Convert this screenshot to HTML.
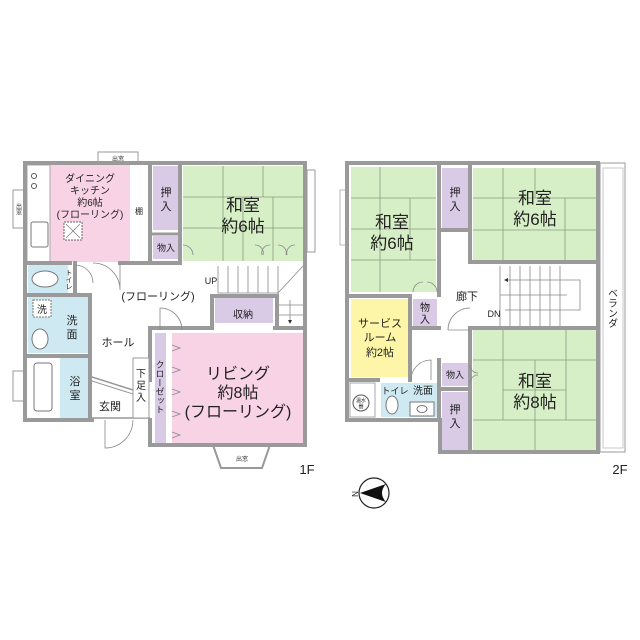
<!DOCTYPE html>
<html><head><meta charset="utf-8"><style>
html,body{margin:0;padding:0;background:#fff;}
svg{display:block;font-family:"Liberation Sans","Noto Sans CJK JP",sans-serif;}
.v{writing-mode:vertical-rl;font-family:"Noto Sans CJK JP",sans-serif;}
</style></head><body>
<svg width="640" height="640" viewBox="0 0 640 640" xmlns="http://www.w3.org/2000/svg">
<rect width="640" height="640" fill="#fff"/>
<!-- ================= 1F ================= -->
<rect x="98" y="152" width="40" height="11" fill="#fff" stroke="#999" stroke-width="1"/>
<text x="118" y="161" font-size="6" text-anchor="middle" fill="#333">出窓</text>
<rect x="13" y="190" width="12" height="38" fill="#fff" stroke="#999" stroke-width="1"/>
<text x="19" y="203" font-size="6" class="v" text-anchor="start" fill="#333">出窓</text>
<rect x="13" y="371" width="12" height="30" fill="#fff" stroke="#999" stroke-width="1"/>
<rect x="307" y="170" width="8" height="82" fill="#fff" stroke="#999" stroke-width="1"/>
<polygon points="213,445 270,445 262,468 221,468" fill="#fff" stroke="#999" stroke-width="2"/>
<text x="242" y="461" font-size="6" text-anchor="middle" fill="#333">出窓</text>
<rect x="50" y="165" width="80" height="97" fill="#f8d3e6"/>
<rect x="27" y="165" width="23" height="97" fill="#fff" stroke="#aaa" stroke-width="1"/>
<circle cx="34" cy="176" r="2.5" fill="none" stroke="#555"/><circle cx="34" cy="186" r="2.5" fill="none" stroke="#555"/>
<rect x="31" y="222" width="17" height="25" rx="2" fill="#fff" stroke="#777"/>
<rect x="64" y="222" width="18" height="18" fill="#fff" stroke="#666" stroke-dasharray="2,1"/>
<path d="M66 224L80 238M80 224L66 238" stroke="#777" stroke-width="0.7"/>
<rect x="153" y="166" width="25" height="64" fill="#d9cae6"/>
<rect x="153" y="236" width="25" height="23" fill="#d9cae6"/>
<rect x="183" y="166" width="120" height="95" fill="#d7efc7"/>
<g stroke="#8a9a80" stroke-width="0.8" fill="none">
<line x1="183" y1="197" x2="303" y2="197"/><line x1="183" y1="228" x2="303" y2="228"/>
<line x1="223" y1="166" x2="223" y2="261"/><line x1="263" y1="166" x2="263" y2="197"/>
<line x1="243" y1="197" x2="243" y2="261"/><line x1="273" y1="197" x2="273" y2="261"/>
</g>
<rect x="28" y="265" width="40" height="28" fill="#cfe9f3"/>
<ellipse cx="45" cy="279" rx="13" ry="8" fill="#fff" stroke="#777"/>
<rect x="28" y="297" width="60" height="56" fill="#cfe9f3"/>
<rect x="33" y="300" width="18" height="17" fill="#fff" stroke="#777" stroke-dasharray="2,1"/>
<ellipse cx="40" cy="339" rx="8" ry="10" fill="#fff" stroke="#777"/>
<rect x="28" y="358" width="25" height="60" fill="#fff"/>
<rect x="34" y="363" width="18" height="48" rx="3" fill="#fff" stroke="#777"/>
<rect x="60" y="358" width="28" height="60" fill="#cfe9f3"/>
<rect x="155" y="333" width="11" height="110" fill="#d9cae6"/>
<rect x="172" y="333" width="131" height="110" fill="#f8d3e6"/>
<rect x="215" y="298" width="58" height="25" fill="#d9cae6"/>
<g stroke="#888" stroke-width="0.8" fill="none">
<line x1="218" y1="266" x2="218" y2="293"/>
<line x1="228" y1="266" x2="228" y2="293"/><line x1="238" y1="266" x2="238" y2="293"/><line x1="248" y1="266" x2="248" y2="293"/><line x1="258" y1="266" x2="258" y2="293"/><line x1="268" y1="266" x2="268" y2="293"/><line x1="278" y1="266" x2="278" y2="293"/>
<line x1="218" y1="293" x2="278" y2="293"/>
<line x1="278" y1="293" x2="303" y2="266"/>
<line x1="278" y1="305" x2="303" y2="305"/><line x1="278" y1="315" x2="303" y2="315"/>
<line x1="278" y1="293" x2="278" y2="325"/>
<line x1="290" y1="300" x2="290" y2="320"/>
</g>
<polygon points="288,320 292,320 290,324" fill="#333"/>
<g stroke="#9a9a9a" stroke-width="4" fill="none" stroke-linecap="square">
<polyline points="25,163 305,163 305,445 150,445 150,420"/>
<polyline points="25,163 25,420 92,420"/>
<line x1="25" y1="263" x2="70" y2="263"/><line x1="120" y1="263" x2="150" y2="263"/>
<line x1="150" y1="163" x2="150" y2="263"/>
<line x1="150" y1="263" x2="180" y2="263"/>
<line x1="180" y1="163" x2="180" y2="263"/>
<line x1="75" y1="263" x2="75" y2="293"/>
<line x1="25" y1="295" x2="90" y2="295"/>
<line x1="90" y1="295" x2="90" y2="420"/>
<line x1="25" y1="356" x2="90" y2="356"/>
<line x1="150" y1="328" x2="150" y2="380"/>
<line x1="150" y1="328" x2="210" y2="328"/><line x1="275" y1="328" x2="305" y2="328"/>
<polyline points="212,328 212,296 277,296 277,328"/>
</g>
<line x1="150" y1="234" x2="180" y2="234" stroke="#9a9a9a" stroke-width="3"/>
<line x1="92" y1="418" x2="150" y2="418" stroke="#999" stroke-width="1.5"/>
<rect x="133" y="358" width="16" height="60" fill="#fff" stroke="#999" stroke-width="1"/>
<line x1="92" y1="377" x2="133" y2="390" stroke="#999" stroke-width="1.5"/>
<line x1="92" y1="381" x2="133" y2="394" stroke="#999" stroke-width="1"/>
<g stroke="#888" stroke-width="0.8" fill="none">
<path d="M120 263 L120 290 A27 27 0 0 0 93 263"/>
<path d="M75 265 A18 18 0 0 1 93 283"/>
<path d="M105 420 L105 448 A28 28 0 0 0 133 420"/>
<path d="M160 330 L160 308 A22 22 0 0 1 182 330"/>
<path d="M183 245 A10 10 0 0 1 193 255M255 245 A8 8 0 0 1 263 255M270 245 A8 8 0 0 0 262 255M278 245 A8 8 0 0 1 286 255M295 245 A8 8 0 0 0 287 255"/>
<polyline points="172,345 180,348 172,351"/><polyline points="172,367 180,370 172,373"/><polyline points="172,389 180,392 172,395"/><polyline points="172,411 180,414 172,417"/><polyline points="172,432 180,435 172,438"/>
</g>
<g fill="#222" text-anchor="middle">
<text x="90" y="182" font-size="10">ダイニング</text>
<text x="90" y="194" font-size="10">キッチン</text>
<text x="90" y="206" font-size="10">約6帖</text>
<text x="90" y="218" font-size="10">(フローリング)</text>
<text x="139" y="214" font-size="8">棚</text>
<text x="166" y="196" font-size="11">押</text><text x="166" y="210" font-size="11">入</text>
<text x="166" y="251" font-size="9">物入</text>
<text x="243" y="211" font-size="17">和室</text>
<text x="243" y="232" font-size="17">約6帖</text>
<text x="69" y="269" font-size="7" class="v" text-anchor="start">トイレ</text>
<text x="42" y="313" font-size="10">洗</text>
<text x="72" y="324" font-size="11">洗</text><text x="72" y="338" font-size="11">面</text>
<text x="75" y="385" font-size="11">浴</text><text x="75" y="399" font-size="11">室</text>
<text x="158" y="300" font-size="11">(フローリング)</text>
<text x="211" y="284" font-size="9">UP</text>
<text x="118" y="346" font-size="11">ホール</text>
<text x="110" y="410" font-size="11">玄関</text>
<text x="141" y="377" font-size="10">下</text><text x="141" y="389" font-size="10">足</text><text x="141" y="401" font-size="10">入</text>
<text x="243" y="318" font-size="10">収納</text>
<text x="160" y="360" font-size="9" class="v" text-anchor="start">クローゼット</text>
<text x="238" y="379" font-size="16">リビング</text>
<text x="238" y="398" font-size="16">約8帖</text>
<text x="238" y="417" font-size="16">(フローリング)</text>
<text x="307" y="474" font-size="13">1F</text>
</g>

<!-- ================= 2F ================= -->
<rect x="600" y="163" width="25" height="289" fill="#fff" stroke="#999" stroke-width="1"/>
<rect x="603" y="168" width="20" height="280" fill="none" stroke="#bbb" stroke-width="0.8"/>
<rect x="340" y="190" width="6" height="55" fill="#fff" stroke="#aaa" stroke-width="0.8"/>
<rect x="351" y="167" width="85" height="125" fill="#d7efc7"/>
<g stroke="#8a9a80" stroke-width="0.8" fill="none">
<line x1="351" y1="198" x2="436" y2="198"/><line x1="351" y1="229" x2="436" y2="229"/><line x1="351" y1="260" x2="436" y2="260"/>
<line x1="380" y1="167" x2="380" y2="292"/><line x1="410" y1="198" x2="410" y2="260"/>
</g>
<rect x="442" y="168" width="26" height="60" fill="#d9cae6"/>
<rect x="473" y="168" width="123" height="92" fill="#d7efc7"/>
<g stroke="#8a9a80" stroke-width="0.8" fill="none">
<line x1="473" y1="198" x2="596" y2="198"/><line x1="473" y1="230" x2="596" y2="230"/>
<line x1="503" y1="168" x2="503" y2="260"/><line x1="535" y1="168" x2="535" y2="198"/>
<line x1="565" y1="198" x2="565" y2="260"/>
</g>
<rect x="351" y="299" width="57" height="78" fill="#fdf5a8"/>
<rect x="413" y="299" width="24" height="27" fill="#d9cae6"/>
<rect x="473" y="330" width="123" height="120" fill="#d7efc7"/>
<g stroke="#8a9a80" stroke-width="0.8" fill="none">
<line x1="473" y1="360" x2="596" y2="360"/><line x1="503" y1="390" x2="566" y2="390"/><line x1="473" y1="420" x2="596" y2="420"/>
<line x1="503" y1="330" x2="503" y2="420"/><line x1="566" y1="330" x2="566" y2="420"/><line x1="535" y1="360" x2="535" y2="450"/>
</g>
<rect x="442" y="363" width="26" height="23" fill="#d9cae6"/>
<rect x="442" y="392" width="26" height="58" fill="#d9cae6"/>
<rect x="381" y="383" width="56" height="34" fill="#cfe9f3"/>
<ellipse cx="392" cy="405" rx="6" ry="9" fill="#fff" stroke="#777"/>
<rect x="410" y="402" width="24" height="14" fill="#fff" stroke="#777"/>
<ellipse cx="422" cy="409" rx="5" ry="3.5" fill="#fff" stroke="#777"/>
<rect x="350" y="383" width="25" height="34" fill="#fff" stroke="#aaa"/>
<circle cx="361" cy="403" r="8" fill="#fff" stroke="#555"/>
<g stroke="#888" stroke-width="0.8" fill="none">
<line x1="500" y1="266" x2="500" y2="328"/>
<line x1="500" y1="295" x2="567" y2="295"/>
<line x1="510" y1="266" x2="510" y2="328"/><line x1="520" y1="266" x2="520" y2="328"/><line x1="530" y1="266" x2="530" y2="328"/><line x1="540" y1="266" x2="540" y2="328"/><line x1="550" y1="266" x2="550" y2="328"/><line x1="560" y1="266" x2="560" y2="328"/>
<polyline points="505,280 580,280 580,310 505,310"/>
</g>
<polygon points="504,280 508,278 508,282" fill="#333"/>
<g stroke="#9a9a9a" stroke-width="4" fill="none" stroke-linecap="square">
<polyline points="347,163 598,163 598,452 440,452 440,420 347,420 347,163"/>
<line x1="439" y1="163" x2="439" y2="295"/>
<line x1="470" y1="163" x2="470" y2="262"/>
<line x1="439" y1="230" x2="470" y2="230"/>
<line x1="470" y1="262" x2="598" y2="262"/>
<line x1="470" y1="328" x2="598" y2="328"/>
<line x1="470" y1="328" x2="470" y2="452"/>
<polyline points="347,296 410,296 410,380"/>
<line x1="410" y1="328" x2="439" y2="328"/>
<line x1="347" y1="380" x2="378" y2="380"/>
<line x1="439" y1="360" x2="439" y2="420"/>
<line x1="439" y1="389" x2="470" y2="389"/>
</g>
<g stroke="#888" stroke-width="0.8" fill="none">
<path d="M413 292 A10 10 0 0 1 423 282M437 292 A10 10 0 0 0 427 282"/>
<path d="M470 330 L448 330 A22 22 0 0 1 470 308"/>
<path d="M411 380 A20 20 0 0 1 431 360 L431 380"/>
<path d="M470 365 A8 8 0 0 0 478 373M470 383 A8 8 0 0 1 478 375"/>
</g>
<g fill="#222" text-anchor="middle">
<text x="392" y="228" font-size="17">和室</text>
<text x="392" y="249" font-size="17">約6帖</text>
<text x="455" y="196" font-size="11">押</text><text x="455" y="210" font-size="11">入</text>
<text x="535" y="204" font-size="17">和室</text>
<text x="535" y="225" font-size="17">約6帖</text>
<text x="425" y="311" font-size="10">物</text><text x="425" y="323" font-size="10">入</text>
<text x="467" y="300" font-size="11">廊下</text>
<text x="494" y="317" font-size="9">DN</text>
<text x="380" y="327" font-size="11">サービス</text>
<text x="380" y="341" font-size="11">ルーム</text>
<text x="380" y="356" font-size="11">約2帖</text>
<text x="455" y="378" font-size="9">物入</text>
<text x="455" y="413" font-size="11">押</text><text x="455" y="427" font-size="11">入</text>
<text x="535" y="387" font-size="17">和室</text>
<text x="535" y="408" font-size="17">約8帖</text>
<text x="395" y="394" font-size="9">トイレ</text>
<text x="423" y="394" font-size="10">洗面</text>
<text x="361" y="402" font-size="5">温水</text><text x="361" y="408" font-size="5">器</text>
<text x="613" y="288" font-size="10" class="v" text-anchor="start">ベランダ</text>
<text x="620" y="474" font-size="13">2F</text>
</g>
<circle cx="374" cy="493" r="15" fill="#fff" stroke="#222" stroke-width="1.2"/>
<path d="M360 493 L386 484 Q378 493 386 502 Z" fill="#111"/>
<text x="355" y="497" font-size="8" fill="#222" text-anchor="middle" transform="rotate(-90 355 494)">N</text>
</svg>
</body></html>
